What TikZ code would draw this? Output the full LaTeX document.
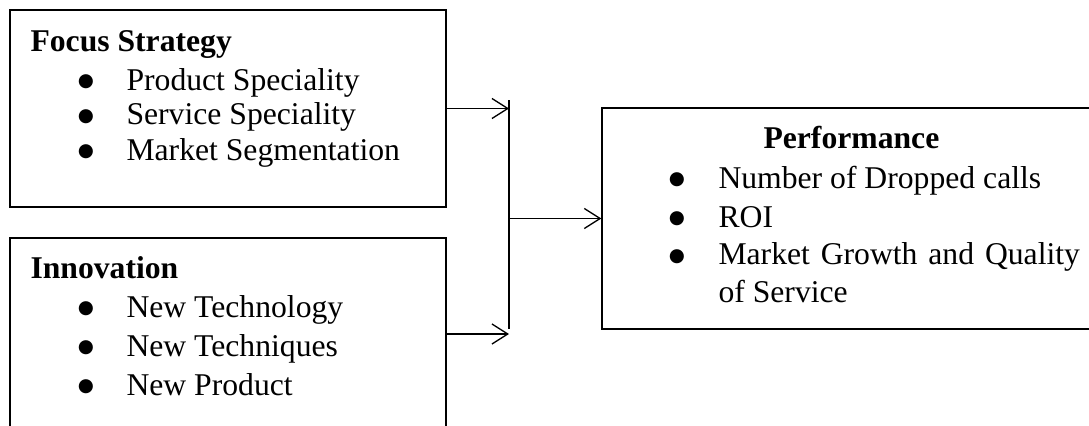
\documentclass[tikz,border=0pt]{standalone}
\usepackage{fontspec}
\setmainfont{Liberation Serif}
\newfontfamily\bulfont{DejaVu Sans}
\usetikzlibrary{arrows.meta,fit}
\tikzset{
  boxst/.style={draw, line width=0.5pt, inner sep=0pt},
  arr/.style={line width=0.5pt, -{Straight Barb[length=6pt,width=7.6pt,line width=0.5pt]}},
  conn/.style={line width=0.5pt},
  ttl/.style={anchor=base west, inner sep=0pt, font=\fontsize{12}{14}\selectfont\bfseries},
  itm/.style={anchor=base west, inner sep=0pt, font=\fontsize{12}{14}\selectfont},
  bul/.style={anchor=center, inner sep=0pt, font=\bulfont\fontsize{7}{8}\selectfont},
}
\begin{document}
\begin{tikzpicture}[x=0.379pt, y=-0.379pt]
\clip (0,0) rectangle (1089,426);
% boxes
\node[boxst, fit={(10,10) (446,207)}] (fs) {};
\node[boxst, fit={(10,238) (446,430)}] (inn) {};
\node[boxst, fit={(602,108) (1100,329)}] (perf) {};
% junction
\coordinate (jt) at (509,100);
\coordinate (jb) at (509,329);
\draw[conn] (jt) -- (jb);
\draw[arr] (fs.east) -- (fs.east -| jt);
\draw[arr] (inn.east) -- (inn.east -| jt);
\draw[arr] (jt |- perf.west) -- (perf.west);
% Focus Strategy
\node[ttl] (fst) at (30,51) {Focus Strategy};
\node[bul] (fb1) at (86,82) {●};
\node[itm] (fi1) at (126,90) {Product Speciality};
\node[bul] (fb2) at (86,117) {●};
\node[itm] (fi2) at (126,125) {Service Speciality};
\node[bul] (fb3) at (86,152) {●};
\node[itm] (fi3) at (126,160) {Market Segmentation};
% Innovation
\node[ttl] (int) at (30,278) {Innovation};
\node[bul] (ib1) at (86,309) {●};
\node[itm] (ii1) at (126,317) {New Technology};
\node[bul] (ib2) at (86,348) {●};
\node[itm] (ii2) at (126,356) {New Techniques};
\node[bul] (ib3) at (86,387) {●};
\node[itm] (ii3) at (126,395) {New Product};
% Performance
\node[ttl] (pt) at (763,149) {Performance};
\node[bul] (pb1) at (677,180) {●};
\node[itm] (pi1) at (718,188) {Number of Dropped calls};
\node[bul] (pb2) at (677,219) {●};
\node[itm] (pi2) at (718,227) {ROI};
\node[bul] (pb3) at (677,257) {●};
\node[itm] (pi3) at (718,265) {\makebox[137pt][s]{Market Growth and Quality}};
\node[itm] (pi4) at (718,302) {of Service};
\end{tikzpicture}
\end{document}
